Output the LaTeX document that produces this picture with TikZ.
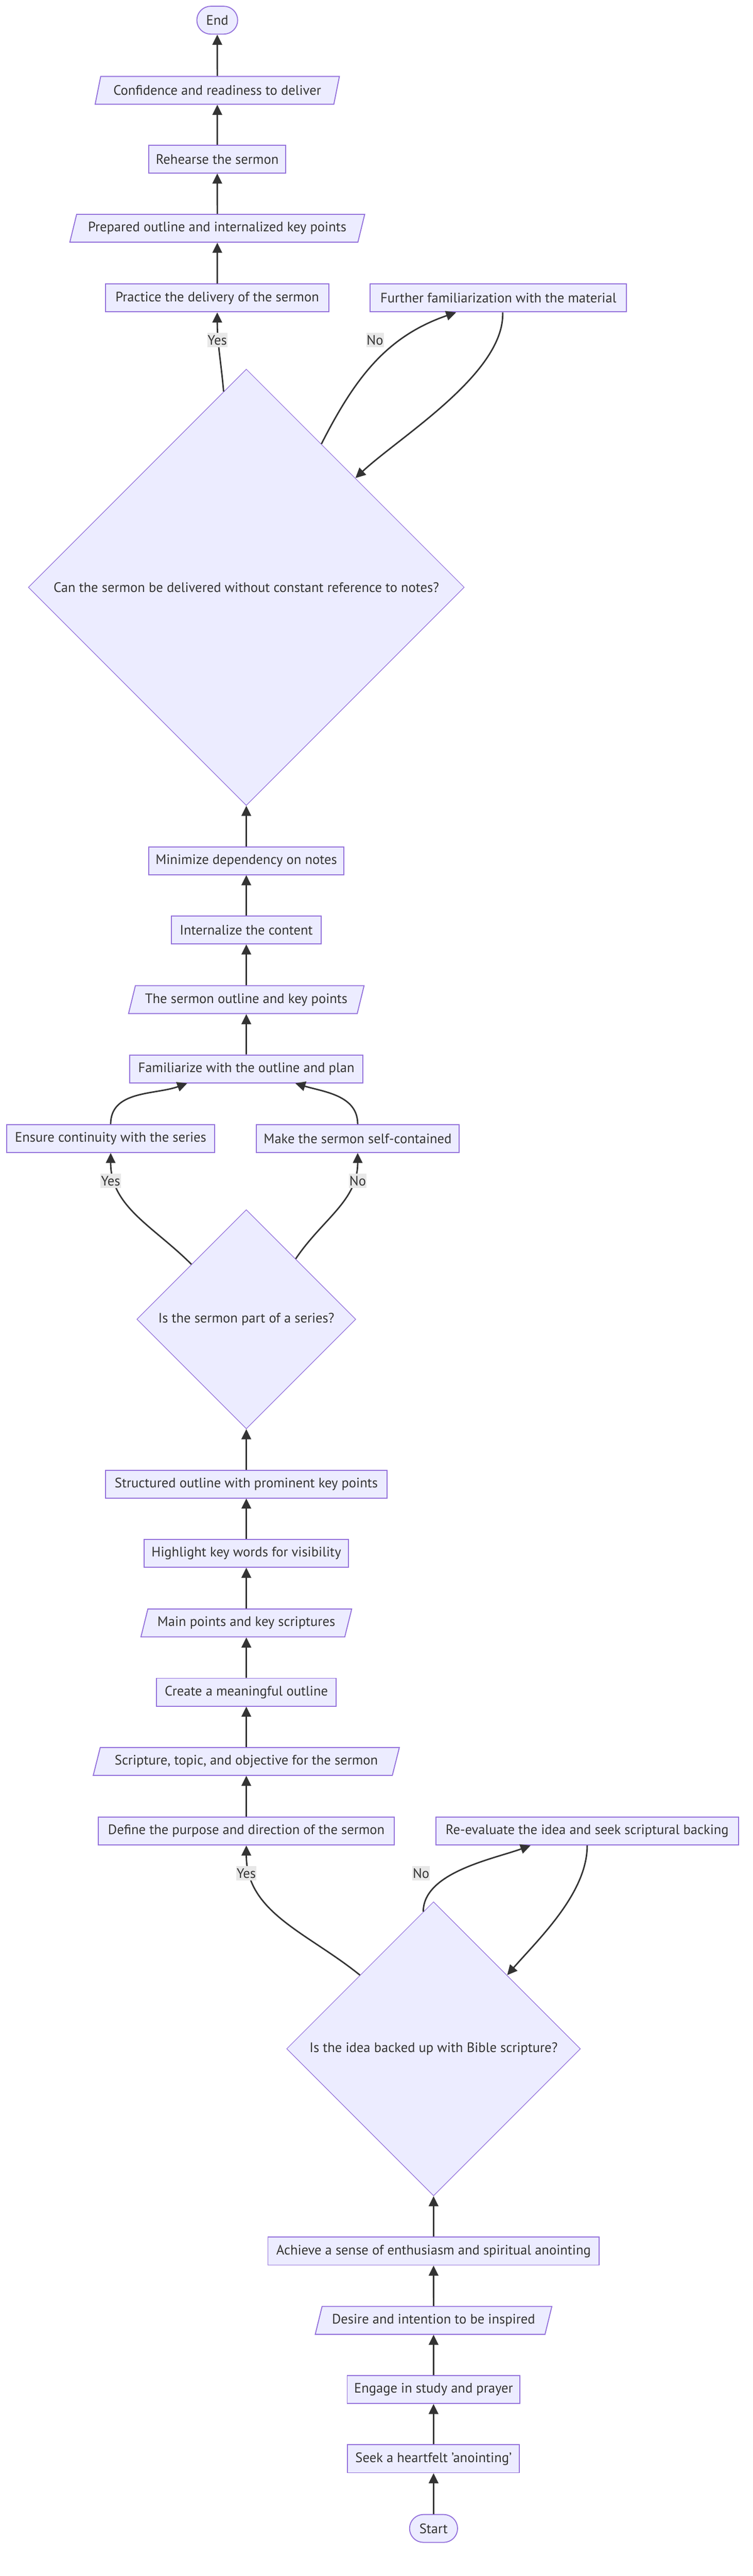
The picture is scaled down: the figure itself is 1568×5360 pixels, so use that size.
\documentclass[tikz,border=0pt]{standalone}
\usepackage{fontspec}
\setmainfont{PT Sans}
\usetikzlibrary{shapes.geometric,arrows.meta,calc}
\definecolor{nodefill}{HTML}{ECECFF}
\definecolor{nodeline}{HTML}{9370DB}
\definecolor{edgecol}{HTML}{333333}
\definecolor{lblbg}{HTML}{E8E8E8}
\begin{document}
\begin{tikzpicture}[x=1pt,y=1pt,
  base/.style={fill=nodefill, draw=nodeline, line width=2pt, text=edgecol,
    font=\fontsize{28.5}{33}\selectfont, inner sep=0pt},
  box/.style={base, rectangle, minimum height=58pt},
  io/.style={base, trapezium, trapezium left angle=63.4, trapezium right angle=116.6,
    trapezium stretches=true, minimum height=58pt},
  term/.style={base, rectangle, rounded corners=29pt, minimum height=58pt},
  dec/.style={base, diamond, aspect=1, line width=1.3pt},
  flow/.style={draw=edgecol, line width=3pt, -{Triangle[length=21pt,width=20pt]}},
  lbl/.style={fill=lblbg, text=edgecol, font=\fontsize{28.5}{33}\selectfont,
    inner xsep=1pt, inner ysep=0pt, minimum height=30pt}
]
\useasboundingbox (0,0) rectangle (1568,-5360);

% nodes
\node[term, minimum width=85pt]  (End)       at (452.5,-42)  {End};
\node[io,   minimum width=511pt] (Confid)    at (452.5,-188) {Confidence and readiness to deliver};
\node[box,  minimum width=285pt] (Rehearse)  at (452.5,-331) {Rehearse the sermon};
\node[io,   minimum width=615pt] (Prepared)  at (452.5,-475) {Prepared outline and internalized key points};
\node[box,  minimum width=465pt] (Practice)  at (452.5,-620) {Practice the delivery of the sermon};
\node[box,  minimum width=534pt] (Further)   at (1038,-620)  {Further familiarization with the material};
\node[dec,  minimum size=908pt]  (D1)        at (513,-1222)  {Can the sermon be delivered without constant reference to notes?};
\node[box,  minimum width=406pt] (Minimize)  at (513,-1791)  {Minimize dependency on notes};
\node[box,  minimum width=312pt] (Internal)  at (513,-1935)  {Internalize the content};
\node[io,   minimum width=492pt] (Outline)   at (513,-2080)  {The sermon outline and key points};
\node[box,  minimum width=486pt] (Familiar)  at (513,-2224)  {Familiarize with the outline and plan};
\node[box,  minimum width=433pt] (Ensure)    at (230.5,-2369) {Ensure continuity with the series};
\node[box,  minimum width=422pt] (Make)      at (745,-2369)  {Make the sermon self-contained};
\node[dec,  minimum size=456pt]  (D2)        at (513,-2745)  {Is the sermon part of a series?};
\node[box,  minimum width=586pt] (Struct)    at (513,-3088)  {Structured outline with prominent key points};
\node[box,  minimum width=426pt] (Highlight) at (513,-3232)  {Highlight key words for visibility};
\node[io,   minimum width=440pt] (MainPts)   at (513,-3377)  {Main points and key scriptures};
\node[box,  minimum width=374pt] (Create)    at (513,-3521)  {Create a meaningful outline};
\node[io,   minimum width=638pt] (Scripture) at (513,-3665)  {Scripture, topic, and objective for the sermon};
\node[box,  minimum width=616pt] (Define)    at (513,-3810)  {Define the purpose and direction of the sermon};
\node[box,  minimum width=630pt] (Reeval)    at (1223,-3810) {Re-evaluate the idea and seek scriptural backing};
\node[dec,  minimum size=612pt]  (D3)        at (903,-4263)  {Is the idea backed up with Bible scripture?};
\node[box,  minimum width=690pt] (Achieve)   at (903,-4684)  {Achieve a sense of enthusiasm and spiritual anointing};
\node[io,   minimum width=496pt] (Desire)    at (903,-4828)  {Desire and intention to be inspired};
\node[box,  minimum width=360pt] (Engage)    at (903,-4972)  {Engage in study and prayer};
\node[box,  minimum width=358pt] (Seek)      at (903,-5116)  {Seek a heartfelt 'anointing'};
\node[term, minimum width=100pt] (Start)     at (903,-5261)  {Start};

% straight connectors
\draw[flow] (Start.north) -- (Seek.south);
\draw[flow] (Seek.north) -- (Engage.south);
\draw[flow] (Engage.north) -- (Desire.south);
\draw[flow] (Desire.north) -- (Achieve.south);
\draw[flow] (Achieve.north) -- (D3.south);
\draw[flow] (Define.north) -- (Scripture.south);
\draw[flow] (Scripture.north) -- (Create.south);
\draw[flow] (Create.north) -- (MainPts.south);
\draw[flow] (MainPts.north) -- (Highlight.south);
\draw[flow] (Highlight.north) -- (Struct.south);
\draw[flow] (Struct.north) -- (D2.south);
\draw[flow] (Familiar.north) -- (Outline.south);
\draw[flow] (Outline.north) -- (Internal.south);
\draw[flow] (Internal.north) -- (Minimize.south);
\draw[flow] (Minimize.north) -- (D1.south);
\draw[flow] (Practice.north) -- (Prepared.south);
\draw[flow] (Prepared.north) -- (Rehearse.south);
\draw[flow] (Rehearse.north) -- (Confid.south);
\draw[flow] (Confid.north) -- (End.south);

% decision 3
\draw[flow] (D3.north west) to[out=141,in=-90] (Define.south);
\draw[flow] ($(D3.north)!0.07!(D3.west)$) to[out=90,in=200,looseness=0.8] ([xshift=-118pt]Reeval.south);
\draw[flow] (Reeval.south) to[out=-90,in=49,looseness=0.8] (D3.north east);
\node[lbl] (y3) at (513,-3898) {Yes};
\node[lbl] (n3) at (877,-3898) {No};

% decision 2
\draw[flow] (D2.north west) to[out=135,in=-90] (Ensure.south);
\draw[flow] ($(D2.north)!0.45!(D2.east)$) to[out=56,in=-90] (Make.south);
\draw[flow] (Ensure.north) to[out=90,in=200] ([xshift=-123pt]Familiar.south);
\draw[flow] (Make.north) to[out=90,in=-17] ([xshift=102pt]Familiar.south);
\node[lbl] (y2) at (230.5,-2457) {Yes};
\node[lbl] (n2) at (745,-2457) {No};

% decision 1
\draw[flow] ($(D1.north)!0.104!(D1.west)$) to[out=95,in=-90] (Practice.south);
\draw[flow] ($(D1.north)!0.344!(D1.east)$) to[out=63,in=199] ([xshift=-88pt]Further.south);
\draw[flow] ([xshift=9pt]Further.south) to[out=-88,in=43,looseness=0.7] (D1.north east);
\node[lbl] (y1) at (452.5,-708) {Yes};
\node[lbl] (n1) at (781,-708) {No};
\end{tikzpicture}
\end{document}
